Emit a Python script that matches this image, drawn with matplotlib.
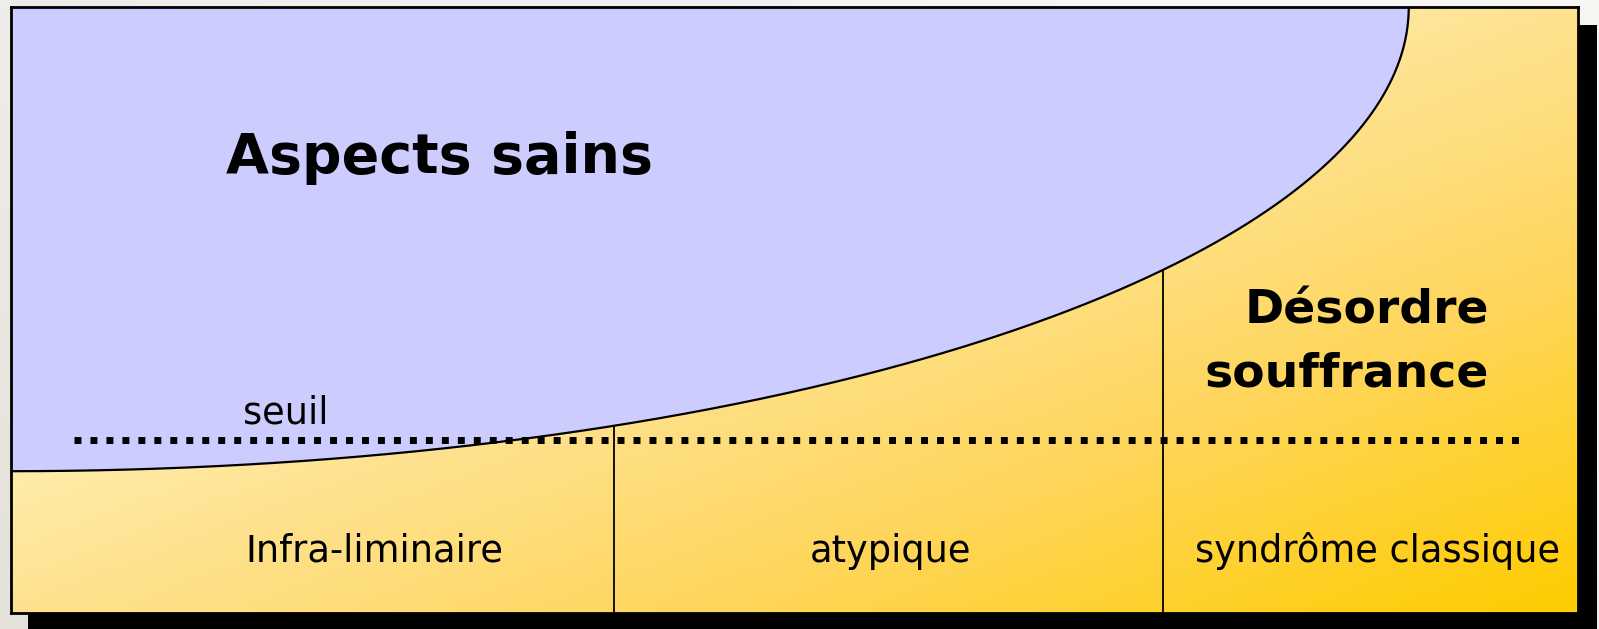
import numpy as np
import matplotlib
matplotlib.use("Agg")
import matplotlib.pyplot as plt
from matplotlib.colors import LinearSegmentedColormap
from matplotlib.patches import Rectangle

plt.rcParams["font.family"] = ["DejaVu Sans"]

# diagram content (box coordinates, 0-100 on both axes)
categories = ["Infra-liminaire", "atypique", "syndrôme classique"]
boundaries = [0, 38.5, 73.5, 100]
threshold = 28.5
threshold_label = "seuil"
healthy_label = "Aspects sains"
disorder_label = ["Désordre", "souffrance"]

# quarter ellipse separating healthy / disorder, centred on top-left corner
curve_a = 89.2
curve_b = 76.6


def curve_y(x):
    x = np.clip(x, 0, curve_a)
    return 100 - curve_b * np.sqrt(1 - (x / curve_a) ** 2)


W, H = 1599, 629
fig = plt.figure(figsize=(W / 100, H / 100), dpi=100)

# page background
bg = fig.add_axes([0, 0, 1, 1])
bg.set_axis_off()
gx = np.linspace(0, 1, 200)
gy = np.linspace(0, 1, 80)
GX, GY = np.meshgrid(gx, gy)
bg_cmap = LinearSegmentedColormap.from_list("bg", ["#E4E1DA", "#F6F5F2"])
bg.imshow(np.clip(0.6 * GX + 0.6 * (1 - GY), 0, 1), cmap=bg_cmap,
          extent=[0, 1, 0, 1], aspect="auto", origin="upper")
bg.set_xlim(0, 1)
bg.set_ylim(0, 1)

# drop shadow
fig.patches.append(Rectangle((28 / W, -2 / H), (1597 - 28) / W, (631 - 25) / H,
                             transform=fig.transFigure, facecolor="black",
                             edgecolor="none", zorder=1))

left, top, right, bottom = 11, 7, 1578, 613
ax = fig.add_axes([left / W, (H - bottom) / H, (right - left) / W, (bottom - top) / H])
ax.set_zorder(2)
ax.set_xlim(0, 100)
ax.set_ylim(0, 100)
ax.set_xticks([])
ax.set_yticks([])
for sp in ax.spines.values():
    sp.set_linewidth(2)
    sp.set_zorder(10)

# yellow diagonal gradient
yel = LinearSegmentedColormap.from_list(
    "yel", [(0, "#FFF6C4"), (0.4, "#FEEBA6"), (0.5, "#FEE290"),
            (0.72, "#FED65C"), (1, "#FFCC00")])
ux = np.linspace(0, 1, 400)
uy = np.linspace(0, 1, 160)
UX, UY = np.meshgrid(ux, uy)
ax.imshow((UX + UY) / 2, cmap=yel, extent=[0, 100, 0, 100],
          aspect="auto", origin="upper", vmin=0, vmax=1, zorder=0)

# healthy region above the curve (parametric quarter ellipse)
theta = np.linspace(0, np.pi / 2, 600)
xs = curve_a * np.sin(theta)
ys = 100 - curve_b * np.cos(theta)
ax.fill_between(xs, ys, 100, color="#CCCCFF", zorder=1, linewidth=0)
ax.plot(xs, ys, color="black", lw=1.6, zorder=3)

# category separators
for b in boundaries[1:-1]:
    ax.plot([b, b], [0, curve_y(b)], color="black", lw=1.3, zorder=3)

# threshold dotted line
ax.plot([4.0, 96.5], [threshold, threshold], color="black", lw=5,
        linestyle=(0, (1, 1.3)), dash_capstyle="butt", zorder=4)

ax.text(14.8, 33.0, threshold_label, fontsize=26.5, ha="left", va="center", zorder=5)
ax.text(13.7, 75.0, healthy_label, fontsize=40, fontweight="bold",
        ha="left", va="center", zorder=5)
ax.text(94.3, 49.8, disorder_label[0], fontsize=34, fontweight="bold",
        ha="right", va="center", zorder=5)
ax.text(94.3, 39.4, disorder_label[1], fontsize=34, fontweight="bold",
        ha="right", va="center", zorder=5)

label_x = [23.2, 56.1, 87.2]
for lx, lab in zip(label_x, categories):
    ax.text(lx, 10.2, lab, fontsize=26.5, ha="center", va="center", zorder=5)

fig.savefig("out.png", dpi=100)
